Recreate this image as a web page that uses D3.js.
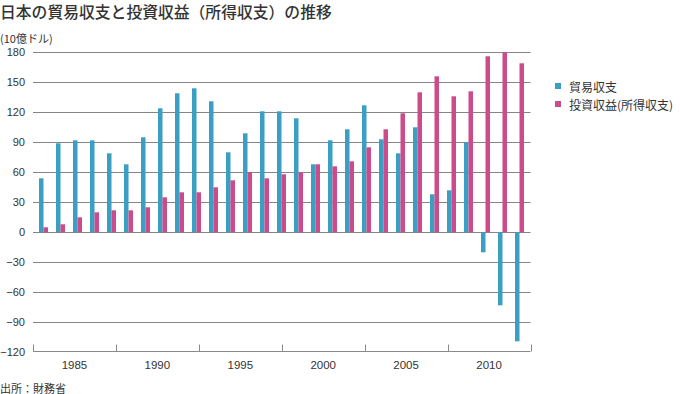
<!DOCTYPE html>
<html><head><meta charset="utf-8">
<script src="https://cdn.jsdelivr.net/npm/d3@7"></script>
<style>
html,body{margin:0;padding:0;background:#fff;}
svg{display:block;}
text{font-family:"Noto Sans CJK JP","Liberation Sans",sans-serif;}
</style></head>
<body>
<svg id="c" width="680" height="394"></svg>
<script>
const years = d3.range(1983, 2012);
const tradeBalance = [54, 89, 92, 92, 79, 68, 95, 124, 139, 144, 131, 80, 99, 121, 121, 114, 68, 92, 103, 127, 93, 79, 105, 38, 42, 90, -20, -73, -109];
const investmentIncome = [5, 8, 15, 20, 22, 22, 25, 35, 40, 40, 45, 52, 60, 54, 58, 60, 68, 66, 71, 85, 103, 119, 140, 156, 136, 141, 176, 180, 169];
const yTicks = [180, 150, 120, 90, 60, 30, 0, -30, -60, -90, -120];
const xLabels = [1985, 1990, 1995, 2000, 2005, 2010];
const seriesNames = ["貿易収支", "投資収益(所得収支)"];
const colors = ["#3b9ec3", "#cc4b8b"];

const svg = d3.select("#c");
const y = d3.scaleLinear().domain([-120, 180]).range([352.3, 52.3]);
const xBand = d3.scaleBand().domain(years).range([35, 528]).padding(0);
const xAxisScale = d3.scaleLinear().domain([1983, 2013]).range([33, 530.5]);

// title
svg.append("text").attr("x", 0).attr("y", 11).attr("dominant-baseline", "central")
  .attr("font-size", 15.8).attr("fill", "#333").attr("font-weight", 500)
  .text("日本の貿易収支と投資収益（所得収支）の推移");
svg.append("text").attr("x", 0).attr("y", 37.5).attr("dominant-baseline", "central")
  .attr("font-size", 11).attr("fill", "#333").text("(10億ドル)");

// gridlines
svg.append("g").selectAll("line").data(yTicks.filter(d => d > -120)).join("line")
  .attr("x1", 33).attr("x2", 530.5)
  .attr("y1", d => Math.round(y(d)) + 0.5).attr("y2", d => Math.round(y(d)) + 0.5)
  .attr("stroke", "#858585").attr("stroke-width", 1);

// y labels
svg.append("g").selectAll("text").data(yTicks).join("text")
  .attr("x", 25).attr("y", d => y(d)).attr("text-anchor", "end")
  .attr("dominant-baseline", "central").attr("font-size", 11).attr("fill", "#333")
  .style("font-family", "'Liberation Sans', Arial, sans-serif")
  .text(d => d < 0 ? "\u2212" + Math.abs(d) : d);

// bars
const bw = 4.5;
svg.append("g").selectAll("rect").data(years).join("rect")
  .attr("x", d => xBand(d) + 4).attr("width", bw)
  .attr("y", (d, i) => y(Math.max(0, tradeBalance[i])))
  .attr("height", (d, i) => Math.abs(y(tradeBalance[i]) - y(0)))
  .attr("fill", colors[0]);
svg.append("g").selectAll("rect").data(years).join("rect")
  .attr("x", d => xBand(d) + 4 + bw).attr("width", bw)
  .attr("y", (d, i) => y(Math.max(0, investmentIncome[i])))
  .attr("height", (d, i) => Math.abs(y(investmentIncome[i]) - y(0)))
  .attr("fill", colors[1]);

// x axis
const axisY = 351.5;
const gx = svg.append("g");
gx.append("line").attr("x1", 33).attr("x2", 530.5).attr("y1", axisY).attr("y2", axisY)
  .attr("stroke", "#8a8a8a").attr("stroke-width", 1);
gx.selectAll("line.t").data(d3.range(1983, 2014, 5)).join("line").attr("class", "t")
  .attr("x1", d => Math.round(xAxisScale(d)) + 0.5).attr("x2", d => Math.round(xAxisScale(d)) + 0.5)
  .attr("y1", axisY - 7).attr("y2", axisY).attr("stroke", "#8a8a8a").attr("stroke-width", 1);
gx.selectAll("text").data(xLabels).join("text")
  .attr("x", d => xAxisScale(d + 0.5)).attr("y", 364.5)
  .attr("text-anchor", "middle").attr("dominant-baseline", "central")
  .attr("font-size", 11.5).attr("fill", "#333")
  .style("font-family", "'Liberation Sans', Arial, sans-serif")
  .text(d => d);

// legend
const lg = svg.append("g").selectAll("g").data(seriesNames).join("g")
  .attr("transform", (d, i) => `translate(555,${83 + i * 18})`);
lg.append("rect").attr("width", 6).attr("height", 6).attr("fill", (d, i) => colors[i]);
lg.append("text").attr("x", 14).attr("y", 3).attr("dominant-baseline", "central")
  .attr("font-size", 12).attr("fill", "#333").text(d => d);

// source
svg.append("text").attr("x", 0).attr("y", 387.5).attr("dominant-baseline", "central")
  .attr("font-size", 11).attr("fill", "#333").text("出所：財務省");
</script>
</body></html>
